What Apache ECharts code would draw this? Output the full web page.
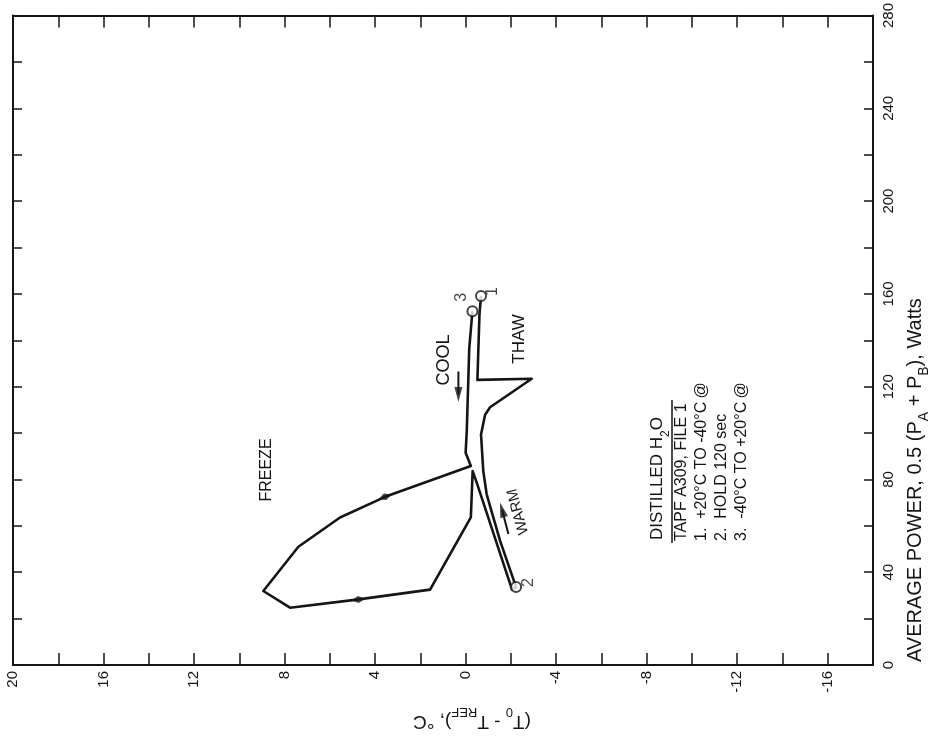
<!DOCTYPE html>
<html>
<head>
<meta charset="utf-8">
<script src="https://cdn.jsdelivr.net/npm/echarts@6/dist/echarts.min.js"></script>
<style>
  html, body { margin: 0; padding: 0; background: #fff; }
  #chart { width: 943px; height: 752px; }
</style>
</head>
<body>
<div id="chart"></div>
<script>
// Temperature difference (T0 - Tref, degC) against average power (W)
const tempLabels = [20, 16, 12, 8, 4, 0, -4, -8, -12, -16];
const powerLabels = [0, 40, 80, 120, 160, 200, 240, 280];

// cooling leg from point 3 down to the freeze onset
const coolT = [-0.30, -0.16, -0.05, 0.00, -0.23];
const coolP = [152.5, 136.5, 100.8, 91.5, 85.8];
// freeze excursion
const freezeT = [3.56, 5.55, 7.39, 8.94, 7.76, 4.81, 1.57, -0.23, -0.31];
const freezeP = [72.5, 63.6, 51.0, 31.9, 24.7, 28.2, 32.5, 63.6, 83.6];
// cooling continues to the hold point
const holdT = [-0.49, -2.05];
const holdP = [78.6, 32.5];
// warming leg from point 2 through the thaw to point 1
const warmT = [-2.23, -1.52, -0.93, -0.78, -0.68, -0.86, -1.08, -2.92, -0.52, -0.61, -0.68];
const warmP = [33.6, 53.6, 73.6, 83.6, 99.4, 107.9, 111.1, 123.4, 122.9, 150.8, 159.1];

// numbered state points
const stateNames = ['1', '2', '3'];
const stateT = [-0.68, -2.23, -0.30];
const stateP = [159.1, 33.6, 152.5];

// direction marks on the freeze loop
const markT = [3.56, 4.74];
const markP = [72.5, 28.2];
const markAngle = [20, 7];

// COOL and WARM arrows: shaft start and head position
const coolArrowT = [0.32, 0.32];
const coolArrowP = [126.5, 116.6];
const warmArrowT = [-1.89, -1.61];
const warmArrowP = [56.5, 66.9];

const FONT = 'Liberation Sans';
const INK = '#151515';
const pairs = (a, b) => a.map((v, i) => [v, b[i]]);

const pathData = [].concat(pairs(coolT, coolP), pairs(freezeT, freezeP), pairs(holdT, holdP), pairs(warmT, warmP));

const tempAxis = {
  type: 'value', min: -18, max: 20, interval: 2, inverse: true,
  axisLine: { show: true, onZero: false, lineStyle: { color: INK, width: 2 } },
  axisTick: { show: true, inside: true, length: 12, lineStyle: { color: INK, width: 1.5 } },
  splitLine: { show: false }
};
const powerAxis = {
  type: 'value', min: 0, max: 280, interval: 20,
  axisLine: { show: true, onZero: false, lineStyle: { color: INK, width: 2 } },
  axisTick: { show: true, inside: true, length: 9, lineStyle: { color: INK, width: 1.5 } },
  splitLine: { show: false }
};

// rotated text block with optional subscripts ({s|...}) and faint marks ({g|...})
const subText = (x, y, rot, text, size, align) => ({
  type: 'text', x: x, y: y, rotation: rot, silent: true,
  style: {
    text: text, x: 0, y: 0,
    align: align, verticalAlign: 'middle',
    textAlign: align, textVerticalAlign: 'middle',
    fill: INK,
    rich: {
      m: { fontSize: size, fontFamily: FONT, lineHeight: size + 6, verticalAlign: 'top', color: INK },
      s: { fontSize: Math.round(size * 0.7), fontFamily: FONT, lineHeight: Math.round(size * 0.95), verticalAlign: 'bottom', color: INK },
      g: { fontSize: size, fontFamily: FONT, lineHeight: size + 6, verticalAlign: 'top', color: '#bdbdbd' }
    }
  }
});

const R90 = Math.PI / 2;

const option = {
  animation: false,
  backgroundColor: '#fff',
  grid: { left: 13, right: 70, top: 12, bottom: 87, containLabel: false },
  xAxis: [
    Object.assign({}, tempAxis, {
      position: 'bottom',
      axisLabel: {
        rotate: 90, margin: 6, fontSize: 15, fontFamily: FONT, color: INK,
        formatter: v => tempLabels.includes(v) ? String(v) : ''
      }
    }),
    Object.assign({}, tempAxis, { position: 'top', axisLabel: { show: false } })
  ],
  yAxis: [
    Object.assign({}, powerAxis, {
      position: 'right',
      axisLabel: {
        rotate: 90, margin: 8, fontSize: 15, fontFamily: FONT, color: INK,
        formatter: v => powerLabels.includes(v) ? String(v) : ''
      }
    }),
    Object.assign({}, powerAxis, { position: 'left', axisLabel: { show: false } })
  ],
  series: [
    {
      type: 'line', data: pathData, symbol: 'none', z: 3,
      lineStyle: { color: INK, width: 2.6, join: 'round' }
    },
    {
      type: 'scatter', z: 5,
      data: pairs(markT, markP).map((d, i) => ({ value: d, symbolRotate: markAngle[i] })),
      symbol: 'diamond', symbolSize: [14, 7],
      itemStyle: { color: INK }
    },
    {
      type: 'line', data: pairs(coolArrowT, coolArrowP), symbol: 'none', z: 4,
      lineStyle: { color: INK, width: 2 }
    },
    {
      type: 'line', data: pairs(warmArrowT, warmArrowP), symbol: 'none', z: 4,
      lineStyle: { color: INK, width: 2 }
    },
    {
      type: 'scatter', z: 5,
      data: [
        { value: [coolArrowT[1], coolArrowP[1]], symbolRotate: 180 },
        { value: [warmArrowT[1], warmArrowP[1]], symbolRotate: 16 }
      ],
      symbol: 'triangle', symbolSize: [8, 15],
      itemStyle: { color: INK }
    },
    {
      type: 'scatter', z: 6,
      data: stateNames.map((n, i) => ({
        name: n, value: [stateT[i], stateP[i]],
        label: n === '3' ? { position: [-5, -8], align: 'center', verticalAlign: 'middle' } : {}
      })),
      symbol: 'circle', symbolSize: 10,
      itemStyle: { color: '#fff', borderColor: INK, borderWidth: 2 },
      label: {
        show: true, formatter: p => p.name, rotate: 90,
        fontSize: 16, fontFamily: FONT, color: INK,
        position: 'right', distance: 6
      }
    }
  ],
  graphic: [
    subText(447, 360, R90, '{m|COOL}', 18, 'center'),
    subText(522, 339, R90, '{m|THAW}', 17, 'center'),
    subText(270, 470, R90, '{m|FREEZE}', 16, 'center'),
    subText(521, 511, 105 * Math.PI / 180, '{m|WARM}', 15, 'center'),
    subText(660, 540, R90, '{m|DISTILLED H}{s|2}{m|O}', 17, 'left'),
    {
      type: 'line', silent: true,
      shape: { x1: 672, y1: 543, x2: 672, y2: 400 },
      style: { stroke: INK, lineWidth: 1.5 }
    },
    subText(685, 541, R90, '{m|TAPF A309, FILE 1}', 16, 'left'),
    subText(705, 541, R90, '{m|1.  +20°C TO -40°C} {g|@}', 16, 'left'),
    subText(725, 541, R90, '{m|2.  HOLD 120 sec}', 16, 'left'),
    subText(745, 541, R90, '{m|3.  -40°C TO +20°C} {g|@}', 16, 'left'),
    subText(918, 662, R90, '{m|AVERAGE POWER, 0.5 (P}{s|A}{m| + P}{s|B}{m|), Watts}', 20, 'left'),
    subText(472, 718, Math.PI, '{m|(T}{s|0}{m| - T}{s|REF}{m|), °C}', 19, 'center')
  ]
};

const chart = echarts.init(document.getElementById('chart'));
chart.setOption(option);
</script>
</body>
</html>
